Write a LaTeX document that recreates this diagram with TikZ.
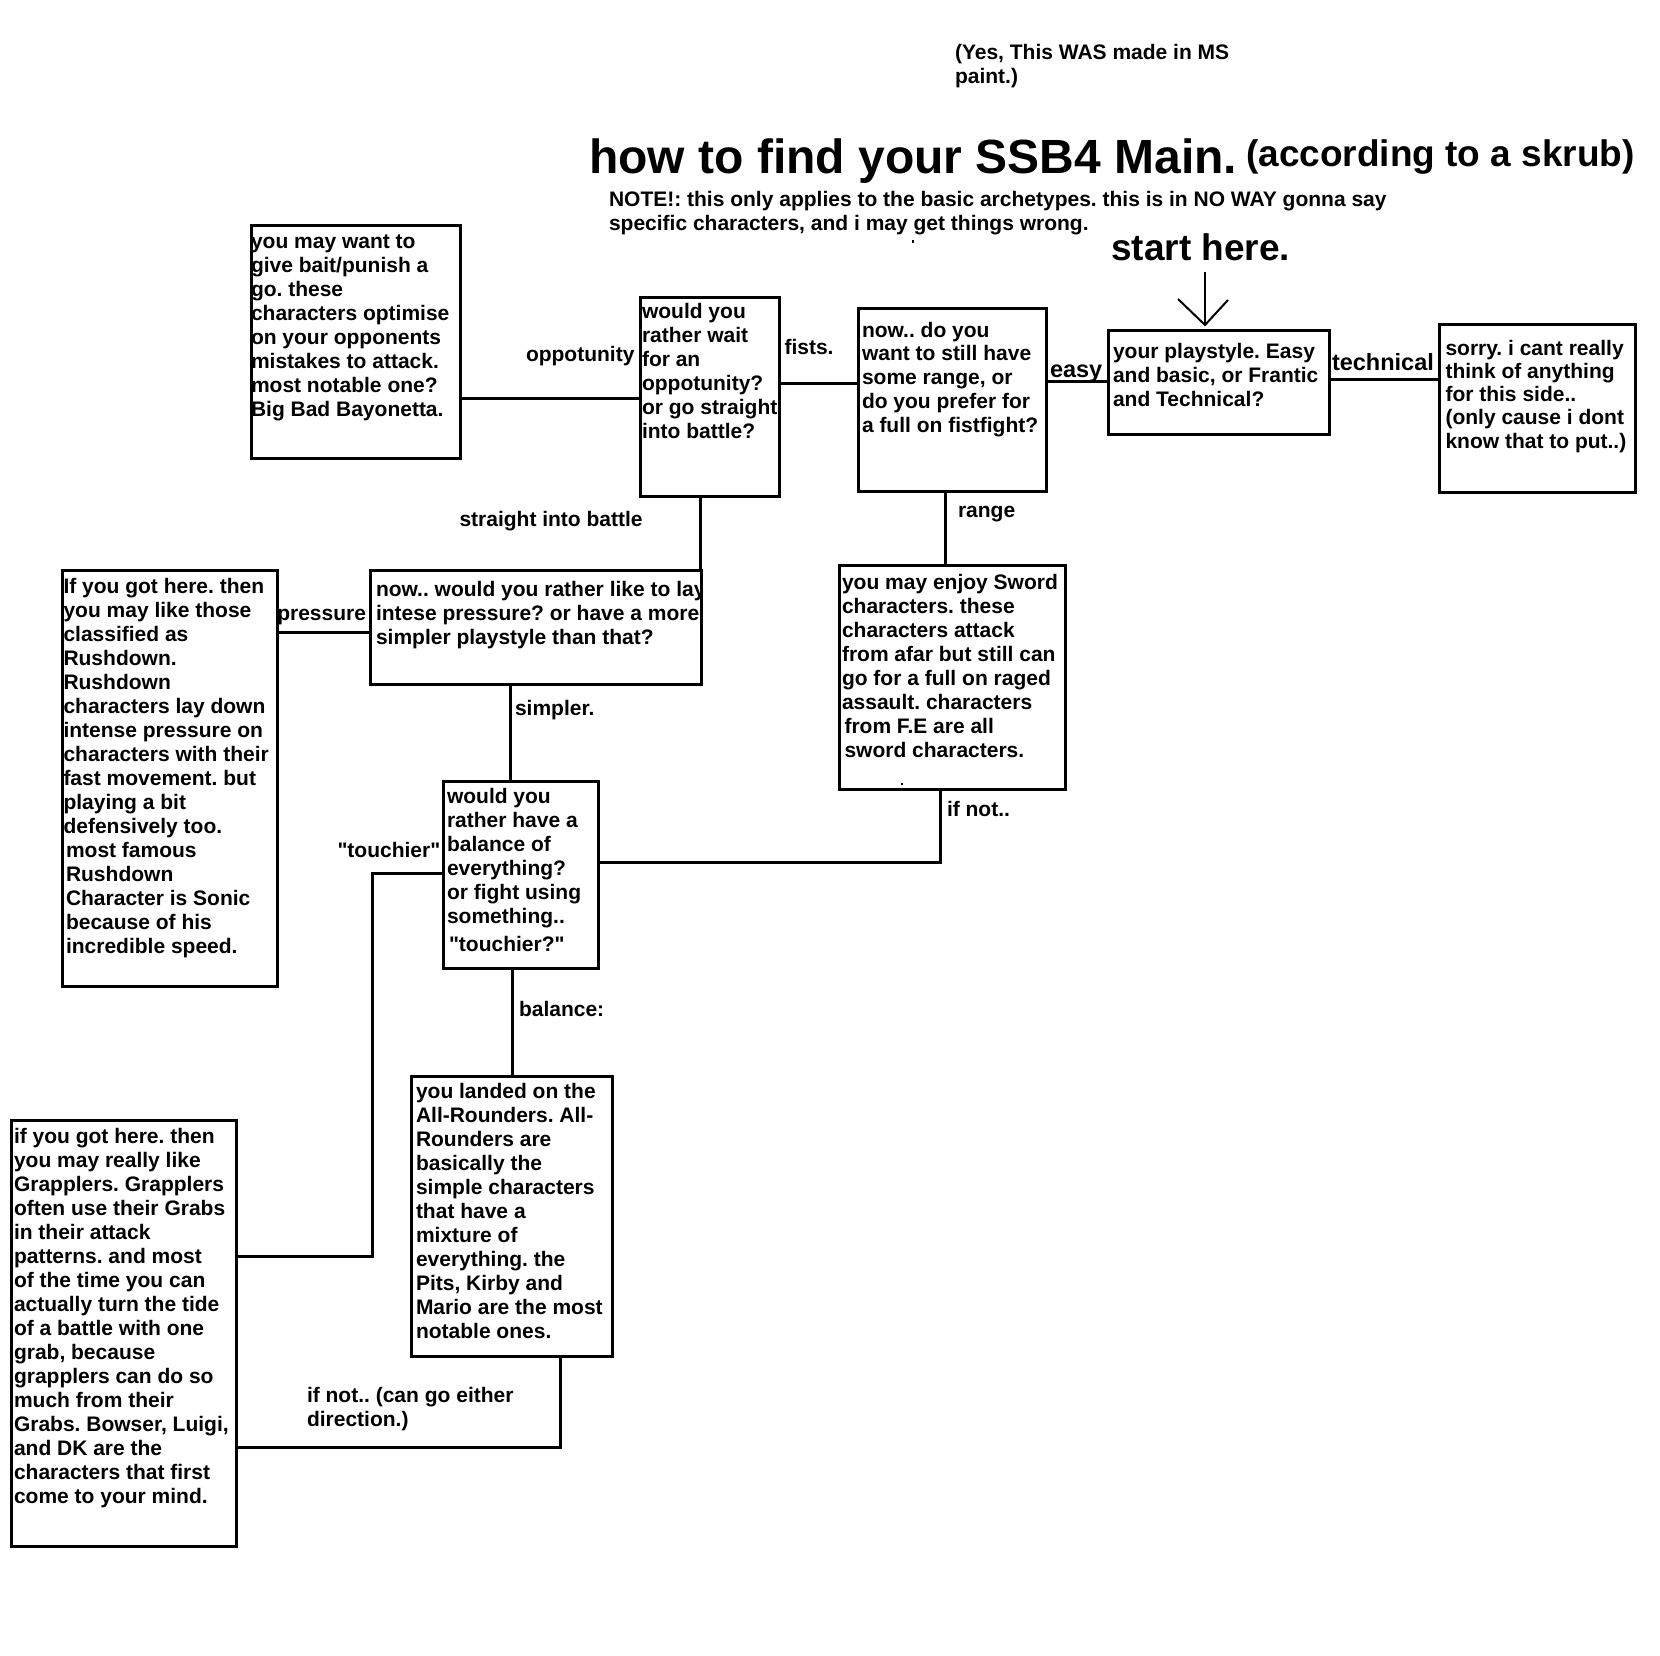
\documentclass[tikz,border=0pt]{standalone}
\usepackage{fontspec}
\setmainfont{Liberation Sans}
\newcommand{\bodyfont}{\bfseries\fontsize{21}{24}\selectfont}
\newcommand{\dq}{\textquotedbl}
\begin{document}
\frenchspacing
\begin{tikzpicture}[x=1pt,y=-1pt,
  box/.style={draw, line width=3pt, anchor=north west, inner sep=0pt, outer sep=0pt},
  conn/.style={line width=3pt},
  txt/.style={anchor=north west, inner sep=0pt, outer sep=0pt, align=left, font=\bodyfont},
  lbl/.style={anchor=base west, inner sep=0pt, outer sep=0pt, font=\bodyfont},
  biglbl/.style={anchor=base west, inner sep=0pt, outer sep=0pt, font=\bfseries\fontsize{23.5}{26}\selectfont},
  arr/.style={line width=2pt}]
\useasboundingbox (0,0) rectangle (1660,1656);
\fill[white] (0,0) rectangle (1660,1656);

% header texts
\node[txt] (yes) at (955,43.2) {\strut(Yes, This WAS made in MS\\paint.)};
\node[anchor=base west, inner sep=0pt, font=\bfseries\fontsize{48}{52}\selectfont] (title) at (589,174) {how to find your SSB4 Main.};
\node[anchor=base west, inner sep=0pt, font=\bfseries\fontsize{37}{40}\selectfont] (sub) at (1246,167) {(according to a skrub)};
\node[txt] (note) at (609,189.2) {\strut NOTE!: this only applies to the basic archetypes. this is in NO WAY gonna say\\specific characters, and i may get things wrong.};
\node[anchor=base west, inner sep=0pt, font=\bfseries\fontsize{37}{40}\selectfont] (start) at (1111,260) {start here.};
\fill (911.5,240) rectangle (913.5,243);

% boxes
\node[box, minimum width=209pt, minimum height=232pt] (A) at (251,226) {};
\node[box, minimum width=139pt, minimum height=198.5pt] (B) at (640,297.5) {};
\node[box, minimum width=188pt, minimum height=183pt] (C) at (858,308) {};
\node[box, minimum width=220.5pt, minimum height=104pt] (D) at (1108.5,330) {};
\node[box, minimum width=196pt, minimum height=168pt] (E) at (1439,324) {};
\node[box, minimum width=226pt, minimum height=224pt] (F) at (839,565) {};
\node[box, minimum width=331pt, minimum height=114pt] (H) at (370,570) {};
\node[box, minimum width=214.5pt, minimum height=416pt] (I) at (62.5,570) {};
\node[box, minimum width=155pt, minimum height=187pt] (G) at (443,781) {};
\node[box, minimum width=201pt, minimum height=280pt] (K) at (411,1076) {};
\node[box, minimum width=225pt, minimum height=426pt] (J) at (11,1120) {};

% box texts
\node[txt] (tA) at (251,231.5) {\strut you may want to\\give bait/punish a\\go. these\\characters optimise\\on your opponents\\mistakes to attack.\\most notable one?\\Big Bad Bayonetta.};
\node[txt] (tB) at (642,301.5) {\strut would you\\rather wait\\for an\\oppotunity?\\or go straight\\into battle?};
\node[txt, font=\bfseries\fontsize{21}{23.75}\selectfont] (tC) at (862,320.4) {\strut now.. do you\\want to still have\\some range, or\\do you prefer for\\a full on fistfight?};
\node[txt] (tD) at (1113,341.3) {\strut your playstyle. Easy\\and basic, or Frantic\\and Technical?};
\node[txt, font=\bfseries\fontsize{21}{23.3}\selectfont] (tE) at (1445.5,338.7) {\strut sorry. i cant really\\think of anything\\for this side..\\(only cause i dont\\know that to put..)};
\node[txt] (tF) at (842,572.5) {\strut you may enjoy Sword\\characters. these\\characters attack\\from afar but still can\\go for a full on raged\\assault. characters\\\hspace*{2.5pt}from F.E are all\\\hspace*{2.5pt}sword characters.};
\fill (901,783) rectangle (903,785);
\begin{scope}
\clip (370,570) rectangle (701,684);
\node[txt] (tH) at (376,579.9) {\strut now.. would you rather like to lay\\intese pressure? or have a more\\simpler playstyle than that?};
\end{scope}
\node[txt] (tI) at (63.5,576.5) {\strut If you got here. then\\you may like those\\classified as\\Rushdown.\\Rushdown\\characters lay down\\intense pressure on\\characters with their\\fast movement. but\\playing a bit\\defensively too.\\\hspace*{2.5pt}most famous\\\hspace*{2.5pt}Rushdown\\\hspace*{2.5pt}Character is Sonic\\\hspace*{2.5pt}because of his\\\hspace*{2.5pt}incredible speed.};
\node[txt] (tG) at (447,786.5) {\strut would you\\rather have a\\balance of\\everything?\\or fight using\\something..\\[4.4pt]\hspace*{2pt}\dq touchier?\dq};
\node[txt] (tK) at (416,1081.5) {\strut you landed on the\\All-Rounders. All-\\Rounders are\\basically the\\simple characters\\that have a\\mixture of\\everything. the\\Pits, Kirby and\\Mario are the most\\notable ones.};
\node[txt] (tJ) at (14,1126.5) {\strut if you got here. then\\you may really like\\Grapplers. Grapplers\\often use their Grabs\\in their attack\\patterns. and most\\of the time you can\\actually turn the tide\\of a battle with one\\grab, because\\grapplers can do so\\much from their\\Grabs. Bowser, Luigi,\\and DK are the\\characters that first\\come to your mind.};

% connectors
\coordinate (tc) at (372.5,1256);
\draw[conn] (A.east |- 0,398) -- (B.west |- 0,398);
\draw[conn] (B.east |- 0,383) -- (C.west |- 0,383);
\draw[conn] (C.east |- 0,381.5) -- (D.west |- 0,381.5);
\draw[conn] (D.east |- 0,379.5) -- (E.west |- 0,379.5);
\draw[conn] (B.south -| 700,0) -- (H.north -| 700,0);
\draw[conn] (C.south -| 945.5,0) -- (F.north -| 945.5,0);
\draw[conn] (I.east |- 0,632) -- (H.west |- 0,632);
\draw[conn] (H.south -| 510.5,0) -- (G.north -| 510.5,0);
\draw[conn] (F.south -| 940,0) |- (G.east |- 0,862);
\draw[conn] (G.west |- 0,873.5) -| (tc) -- (J.east |- tc);
\draw[conn] (G.south -| 512,0) -- (K.north -| 512,0);
\draw[conn] (K.south -| 560.5,0) |- (J.east |- 0,1447);

% start arrow
\coordinate (st) at (1205,272);
\coordinate (tip) at (1205,325);
\draw[arr] (st) -- (tip);
\draw[arr] (1178,299) -- (tip) -- (1228,300);

% connector labels
\node[lbl] (l1) at (526,361.5) {oppotunity};
\node[lbl] (l2) at (784.5,354) {fists.};
\node[biglbl] (l3) at (1050,377) {easy};
\node[biglbl] (l4) at (1332,370.5) {technical};
\node[lbl] (l5) at (459.5,526) {straight into battle};
\node[lbl] (l6) at (958,517) {range};
\node[lbl] (l7) at (277.3,620) {pressure};
\node[lbl] (l8) at (515,715) {simpler.};
\node[lbl] (l9) at (337.5,857) {\dq touchier\dq};
\node[lbl] (l10) at (947,816) {if not..};
\node[lbl] (l11) at (519,1016) {balance:};
\node[txt] (l12) at (307,1385.2) {\strut if not.. (can go either\\direction.)};
\end{tikzpicture}
\end{document}
